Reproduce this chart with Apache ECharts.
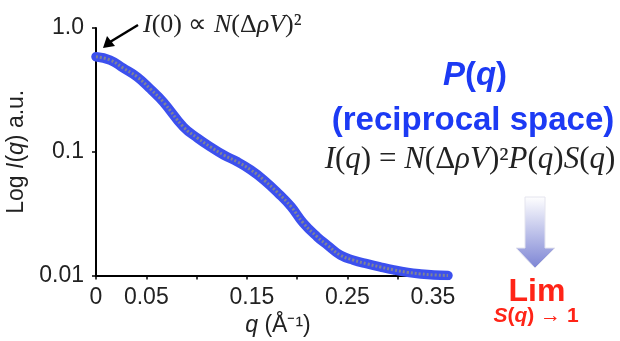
<!DOCTYPE html>
<html lang="en">
<head>
    <meta charset="UTF-8">
    <title>SAXS form factor</title>
    <style>
        body { margin: 0; padding: 0; background: #fff; }
        #chart { width: 620px; height: 341px; }
    </style>
    <script src="https://cdn.jsdelivr.net/npm/echarts@6/dist/echarts.min.js"></script>
</head>
<body>
    <div id="chart"></div>
    <script>
        // q values (1/Å) and intensity (a.u.)
        const qValues = [0.000, 0.014, 0.027, 0.041, 0.054, 0.067, 0.087, 0.101, 0.114,
                         0.127, 0.141, 0.154, 0.167, 0.181, 0.194, 0.206, 0.220, 0.230, 0.243,
                         0.256, 0.270, 0.283, 0.296, 0.310, 0.323, 0.336, 0.350];
        const intensity = [0.586, 0.551, 0.475, 0.402, 0.322, 0.252, 0.1585, 0.129, 0.1093,
                           0.0941, 0.0826, 0.0712, 0.0591, 0.0464, 0.0360, 0.0266, 0.0205, 0.0176, 0.0146,
                           0.0133, 0.0124, 0.0117, 0.0111, 0.0106, 0.0103, 0.0101, 0.0100];
        const xTickLabels = ['0', '0.05', '0.15', '0.25', '0.35'];
        const yTickLabels = { 1: '1.0', 0.1: '0.1', 0.01: '0.01' };

        const points = qValues.map((q, i) => [q, intensity[i]]);

        const chart = echarts.init(document.getElementById('chart'));
        const sans = 'Liberation Sans, Arial, sans-serif';
        const serif = 'Liberation Serif, Times New Roman, serif';
        const blue = '#1c3af4';
        const red = '#ff2417';
        const ink = '#222';

        const option = {
            animation: false,
            grid: { left: 96, right: 172, top: 28, bottom: 65.5, containLabel: false, outerBoundsMode: 'none' },
            xAxis: {
                type: 'value',
                min: 0,
                max: 0.35,
                interval: 0.05,
                splitLine: { show: false },
                axisLine: { lineStyle: { color: '#000', width: 2 } },
                axisTick: { length: 4, lineStyle: { color: '#000', width: 1.5 } },
                axisLabel: {
                    margin: 11,
                    fontSize: 23,
                    fontFamily: sans,
                    color: ink,
                    formatter: function (v) {
                        const s = String(+v.toFixed(2));
                        if (xTickLabels.indexOf(s) < 0) return '';
                        if (s === '0.35') return '{l|' + s + '}';
                        if (s === '0.15') return '{r|' + s + '}';
                        return s;
                    },
                    rich: {
                        l: { fontSize: 23, fontFamily: sans, color: ink, padding: [0, 30, 0, 0] },
                        r: { fontSize: 23, fontFamily: sans, color: ink, padding: [0, 0, 0, 10] }
                    }
                },
                name: '{i|q} (Å⁻¹)',
                nameLocation: 'middle',
                nameGap: 39,
                nameTextStyle: {
                    fontSize: 23,
                    fontFamily: sans,
                    color: ink,
                    padding: [0, 0, 0, 12],
                    rich: { i: { fontSize: 23, fontFamily: sans, fontStyle: 'italic', color: ink } }
                }
            },
            yAxis: {
                type: 'log',
                logBase: 10,
                min: 0.01,
                max: 1,
                splitLine: { show: false },
                axisLine: { lineStyle: { color: '#000', width: 2 } },
                axisTick: { length: 4, lineStyle: { color: '#000', width: 1.5 } },
                minorTick: { show: false },
                axisLabel: {
                    margin: 12,
                    fontSize: 23,
                    fontFamily: sans,
                    color: ink,
                    formatter: function (v) {
                        const key = +v.toPrecision(2);
                        return yTickLabels[key] || '';
                    }
                },
                name: 'Log {i|I}({i|q}) a.u.',
                nameLocation: 'middle',
                nameRotate: 90,
                nameGap: 57,
                nameTextStyle: {
                    fontSize: 23,
                    fontFamily: sans,
                    color: ink,
                    rich: { i: { fontSize: 23, fontFamily: sans, fontStyle: 'italic', color: ink } }
                }
            },
            series: [
                {
                    type: 'line',
                    data: points,
                    smooth: 0.45,
                    showSymbol: false,
                    lineStyle: { color: '#3c50ee', width: 9.5, cap: 'round', join: 'round' }
                },
                {
                    type: 'line',
                    data: points,
                    smooth: 0.45,
                    showSymbol: false,
                    lineStyle: { color: '#7f8396', width: 3, type: [2, 2] }
                }
            ],
            graphic: [
                // arrow pointing at I(0)
                {
                    type: 'line',
                    shape: { x1: 138, y1: 25, x2: 110, y2: 42 },
                    style: { stroke: '#000', lineWidth: 2.5 }
                },
                {
                    type: 'polygon',
                    shape: { points: [[103, 48], [107, 36], [115, 46]] },
                    style: { fill: '#000' }
                },
                {
                    type: 'text',
                    x: 143,
                    y: 25,
                    style: {
                        text: '{i|I}(0) ∝ {i|N}(Δ{i|ρV})²',
                        font: '26px ' + serif,
                        fill: ink,
                        verticalAlign: 'middle',
                        rich: { i: { font: 'italic 26px ' + serif, fill: ink } }
                    }
                },
                {
                    type: 'text',
                    x: 475,
                    y: 76,
                    style: {
                        text: '{i|P}({i|q})',
                        font: 'bold 33px ' + sans,
                        fill: blue,
                        align: 'center',
                        verticalAlign: 'middle',
                        rich: { i: { font: 'italic bold 33px ' + sans, fill: blue } }
                    }
                },
                {
                    type: 'text',
                    x: 473,
                    y: 121,
                    style: {
                        text: '(reciprocal space)',
                        font: 'bold 33px ' + sans,
                        fill: blue,
                        align: 'center',
                        verticalAlign: 'middle'
                    }
                },
                {
                    type: 'text',
                    x: 470,
                    y: 160,
                    style: {
                        text: '{i|I}({i|q}) = {i|N}(Δ{i|ρV})²{i|P}({i|q}){i|S}({i|q})',
                        font: '31px ' + serif,
                        fill: ink,
                        align: 'center',
                        verticalAlign: 'middle',
                        rich: { i: { font: 'italic 31px ' + serif, fill: ink } }
                    }
                },
                // gradient down arrow
                {
                    type: 'polygon',
                    shape: { points: [[525, 197], [545, 197], [545, 248], [555, 248], [535, 268], [516, 248], [525, 248]] },
                    style: {
                        stroke: '#e4e4ee',
                        lineWidth: 1,
                        fill: new echarts.graphic.LinearGradient(0, 0, 0, 1, [
                            { offset: 0, color: '#ffffff' },
                            { offset: 1, color: '#7c84d4' }
                        ])
                    }
                },
                {
                    type: 'text',
                    x: 537,
                    y: 292,
                    style: {
                        text: 'Lim',
                        font: 'bold 32px ' + sans,
                        fill: red,
                        align: 'center',
                        verticalAlign: 'middle'
                    }
                },
                {
                    type: 'text',
                    x: 536,
                    y: 316,
                    style: {
                        text: '{i|S}({i|q}) → 1',
                        font: 'bold 21px ' + sans,
                        fill: red,
                        align: 'center',
                        verticalAlign: 'middle',
                        rich: { i: { font: 'italic bold 21px ' + sans, fill: red } }
                    }
                }
            ]
        };

        chart.setOption(option);
    </script>
</body>
</html>
